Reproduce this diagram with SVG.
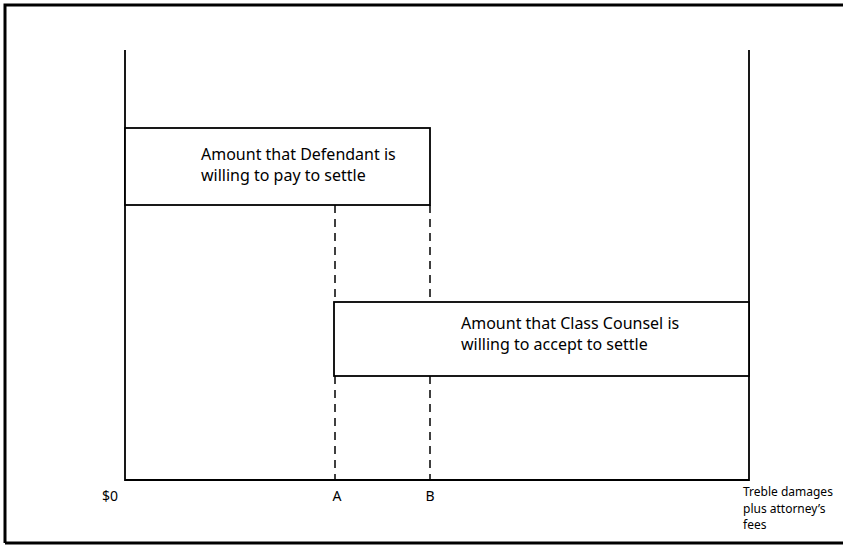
<svg xmlns="http://www.w3.org/2000/svg" width="843" height="545" viewBox="0 0 843 545">
<style>
.ln{stroke:#000;stroke-width:1.8;fill:none}
.fr{stroke:#000;stroke-width:3;fill:none}
.box{stroke:#000;stroke-width:1.8;fill:#fff}
.dash{stroke:#000;stroke-width:1.5;fill:none;stroke-dasharray:8 6}
.t{font-family:"Noto Sans","Open Sans","DejaVu Sans",sans-serif;font-size:16px;fill:#000}
.s{font-family:"Noto Sans","Open Sans","DejaVu Sans",sans-serif;font-size:14px;fill:#000}
.sm{font-family:"Noto Sans","Open Sans","DejaVu Sans",sans-serif;font-size:12px;fill:#000}
</style>
<rect width="843" height="545" fill="#fff"/>
<path class="fr" d="M5,543 V5 H845 M5,543 H845"/>
<g id="axes">
<path class="ln" d="M125,50 V480 H749 V50"/>
</g>
<g id="connectors">
<path class="dash" d="M335,205 V302 M335,376 V480"/>
<path class="dash" d="M430,205 V302 M430,376 V480"/>
</g>
<g id="defendant">
<rect class="box" x="125" y="128" width="305" height="77"/>
<text class="t" x="201" y="160">Amount that Defendant is</text>
<text class="t" x="201" y="181">willing to pay to settle</text>
</g>
<g id="counsel">
<rect class="box" x="334" y="302" width="415" height="74"/>
<text class="t" x="461" y="329">Amount that Class Counsel is</text>
<text class="t" x="461" y="350">willing to accept to settle</text>
</g>
<g id="labels">
<text class="s" x="102" y="501">$0</text>
<text class="s" x="337" y="501" text-anchor="middle">A</text>
<text class="s" x="430" y="501" text-anchor="middle">B</text>
<text class="sm" x="743" y="496">Treble damages</text>
<text class="sm" x="743" y="512.5">plus attorney’s</text>
<text class="sm" x="743" y="529">fees</text>
</g>
</svg>
